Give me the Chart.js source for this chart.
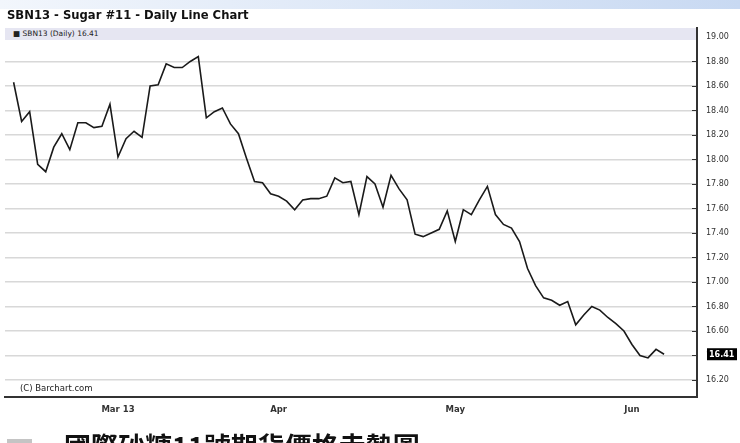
<!DOCTYPE html>
<html>
<head>
<meta charset="utf-8">
<script src="https://cdn.jsdelivr.net/npm/chart.js@4.4.0/dist/chart.umd.min.js"></script>
<style>
  html, body { margin: 0; padding: 0; background: #fff; }
  #wrap { position: relative; width: 740px; height: 443px; overflow: hidden; font-family: "DejaVu Sans", Verdana, sans-serif; }
  #c { position: absolute; left: 0; top: 0; }
  .band { position: absolute; left: 0; top: 0; width: 740px; height: 9px; background: linear-gradient(to right, #f2f6fc, #c8d9f2); }
  .title { position: absolute; left: 7px; top: 8px; font-weight: bold; font-size: 11.6px; color: #111; white-space: nowrap; }
  .strip { position: absolute; left: 5px; top: 28px; width: 691px; height: 12px; background: #e6e6f2; font-size: 7.5px; line-height: 12px; color: #222; padding-left: 8px; box-sizing: border-box; white-space: nowrap; }
  .copy { position: absolute; left: 20px; top: 383px; font-size: 8.5px; color: #222; white-space: nowrap; }
  .capbar { position: absolute; left: 7px; top: 439px; width: 25px; height: 4px; background: #c4c4c4; }
  .caption { position: absolute; left: 64px; top: 432px; font-family: "Noto Sans CJK TC", sans-serif; font-weight: bold; font-size: 27px; line-height: 1; color: #111; white-space: nowrap; }
</style>
</head>
<body>
<div id="wrap">
  <canvas id="c" width="740" height="443"></canvas>
  <div class="band"></div>
  <div class="title">SBN13 - Sugar #11 - Daily Line Chart</div>
  <div class="strip">&#9632; SBN13 (Daily) 16.41</div>
  <div class="copy">(C) Barchart.com</div>
  <div class="capbar"></div>
  <div class="caption">國際砂糖11號期貨價格走勢圖</div>
</div>
<script>
// trading days, Feb 11 - Jun 7 2013
var dates = [
  '2013-02-11','2013-02-12','2013-02-13','2013-02-14','2013-02-15','2013-02-19','2013-02-20','2013-02-21','2013-02-22',
  '2013-02-25','2013-02-26','2013-02-27','2013-02-28',
  '2013-03-01','2013-03-04','2013-03-05','2013-03-06','2013-03-07','2013-03-08','2013-03-11','2013-03-12','2013-03-13',
  '2013-03-14','2013-03-15','2013-03-18','2013-03-19','2013-03-20','2013-03-21','2013-03-22','2013-03-25','2013-03-26',
  '2013-03-27','2013-03-28',
  '2013-04-01','2013-04-02','2013-04-03','2013-04-04','2013-04-05','2013-04-08','2013-04-09','2013-04-10','2013-04-11',
  '2013-04-12','2013-04-15','2013-04-16','2013-04-17','2013-04-18','2013-04-19','2013-04-22','2013-04-23','2013-04-24',
  '2013-04-25','2013-04-26','2013-04-29','2013-04-30',
  '2013-05-01','2013-05-02','2013-05-03','2013-05-06','2013-05-07','2013-05-08','2013-05-09','2013-05-10','2013-05-13',
  '2013-05-14','2013-05-15','2013-05-16','2013-05-17','2013-05-20','2013-05-21','2013-05-22','2013-05-23','2013-05-24',
  '2013-05-28','2013-05-29','2013-05-30','2013-05-31',
  '2013-06-03','2013-06-04','2013-06-05','2013-06-06','2013-06-07'
];

var closes = [
  18.63, 18.31, 18.39, 17.96, 17.90, 18.10, 18.21, 18.08, 18.30, 18.30, 18.26, 18.27, 18.45,
  18.02, 18.17, 18.23, 18.18, 18.60, 18.61, 18.78, 18.75, 18.75, 18.80, 18.84, 18.34, 18.39,
  18.42, 18.29, 18.21, 18.01, 17.82, 17.81, 17.72,
  17.70, 17.66, 17.59, 17.67, 17.68, 17.68, 17.70, 17.85, 17.81, 17.82, 17.55, 17.86, 17.80,
  17.61, 17.87, 17.76, 17.67, 17.39, 17.37, 17.40, 17.43,
  17.58, 17.33, 17.59, 17.55, 17.67, 17.78, 17.55, 17.47, 17.44, 17.33, 17.11, 16.97, 16.87,
  16.85, 16.81, 16.84, 16.65, 16.73, 16.80, 16.77, 16.71, 16.66, 16.60,
  16.49, 16.40, 16.38, 16.45, 16.41
];

var xTickDates = ['2013-03-01', '2013-04-01', '2013-05-01', '2013-06-03'];
var xTickLabels = ['Mar 13', 'Apr', 'May', 'Jun'];
var yTicks = [16.2, 16.4, 16.6, 16.8, 17.0, 17.2, 17.4, 17.6, 17.8, 18.0, 18.2, 18.4, 18.6, 18.8, 19.0];

var xTickIdx = xTickDates.map(function (d) { return dates.indexOf(d); });

var lastPrice = {
  id: 'lastPrice',
  afterDatasetsDraw: function (chart) {
    var c = chart.ctx, a = chart.chartArea, y = chart.scales.y;
    c.save();
    c.strokeStyle = '#333';
    c.lineWidth = 1;
    yTicks.forEach(function (v) {
      var py = Math.round(y.getPixelForValue(v)) + 0.5;
      c.beginPath();
      c.moveTo(a.right - 5, py);
      c.lineTo(a.right, py);
      c.stroke();
    });
    var v = closes[closes.length - 1];
    var py = y.getPixelForValue(v);
    c.fillStyle = '#000';
    c.fillRect(707, py - 6, 30, 12);
    c.fillStyle = '#fff';
    c.font = 'bold 8px "DejaVu Sans", Verdana, sans-serif';
    c.textBaseline = 'middle';
    c.fillText(v.toFixed(2), 709, py + 0.5);
    c.restore();
  }
};

var ctx = document.getElementById('c');
var myChart = new Chart(ctx, {
  type: 'line',
  data: {
    datasets: [{
      label: 'SBN13',
      data: closes.map(function (v, i) { return { x: i, y: v }; }),
      borderColor: '#1a1a1a',
      borderWidth: 1.6,
      pointRadius: 0,
      tension: 0,
      fill: false
    }]
  },
  options: {
    responsive: false,
    animation: false,
    devicePixelRatio: 1,
    layout: { padding: { left: 5, top: 28, right: 0, bottom: 0 } },
    plugins: { legend: { display: false }, tooltip: { enabled: false } },
    scales: {
      x: {
        type: 'linear',
        min: -1.07,
        max: 85.1,
        grid: { display: false, drawTicks: false },
        border: { color: '#333', width: 2 },
        afterBuildTicks: function (s) { s.ticks = xTickIdx.map(function (v) { return { value: v }; }); },
        afterFit: function (s) { s.height = 46; },
        ticks: {
          autoSkip: false,
          maxRotation: 0,
          padding: 8,
          color: '#333',
          font: { family: '"DejaVu Sans", Verdana, sans-serif', size: 8.5, weight: 'bold' },
          callback: function (v, i) { return xTickLabels[i]; }
        }
      },
      y: {
        position: 'right',
        min: 16.061,
        max: 19.073,
        grid: { color: '#d8d8d8', lineWidth: 1.5, drawTicks: false },
        border: { color: '#333', width: 2 },
        afterBuildTicks: function (s) { s.ticks = yTicks.map(function (v) { return { value: v }; }); },
        afterFit: function (s) { s.width = 43; },
        ticks: {
          padding: 9,
          color: '#333',
          font: { family: '"DejaVu Sans", Verdana, sans-serif', size: 8 },
          callback: function (v) { return v.toFixed(2); }
        }
      }
    }
  },
  plugins: [lastPrice]
});
</script>
</body>
</html>
